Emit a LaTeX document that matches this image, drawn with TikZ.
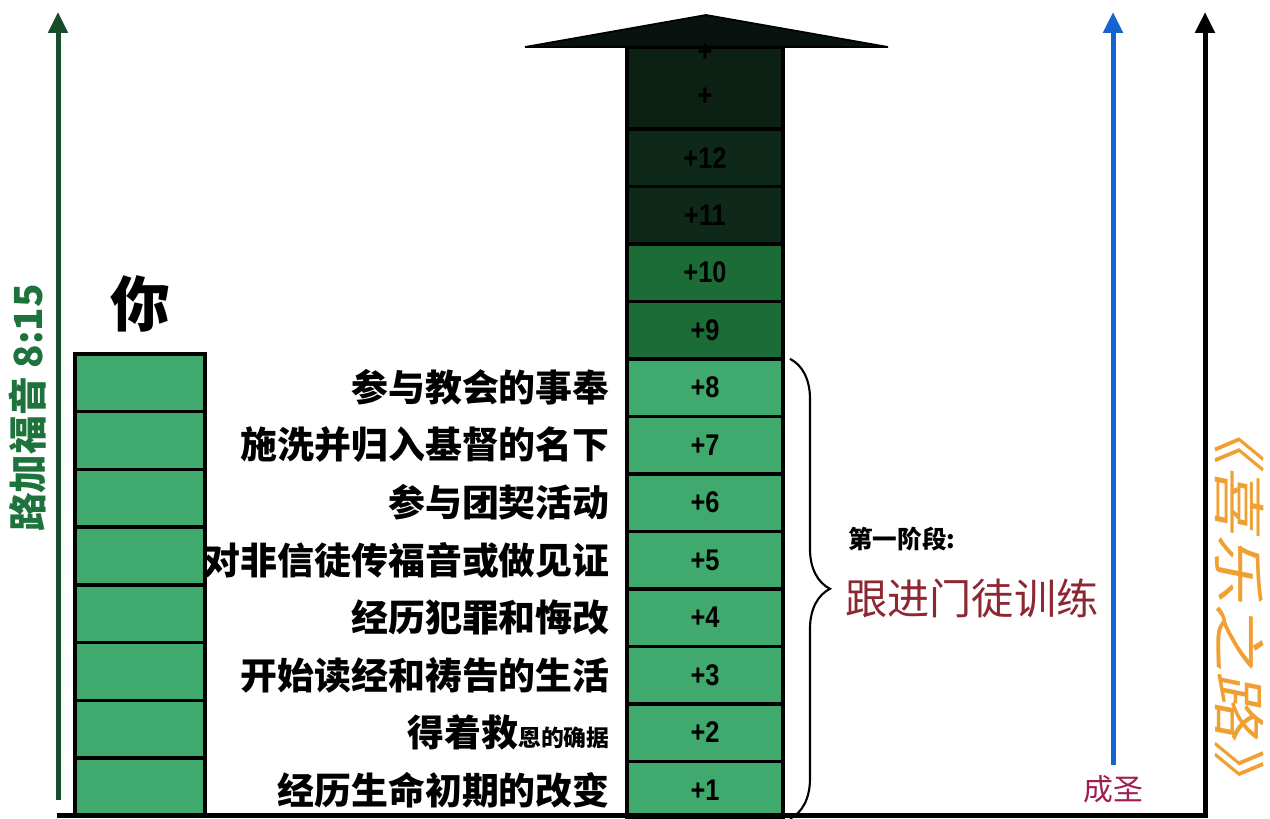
\documentclass[tikz,border=0pt]{standalone}
\usepackage{fontspec}
\setmainfont{Noto Sans CJK SC}
\newfontfamily\numfont[FakeStretch=0.85]{Liberation Sans}
\newfontfamily\slantfont[FakeSlant=0.2,FakeStretch=1.3]{Noto Sans CJK SC}
\usepackage{tikz}
\usetikzlibrary{arrows.meta,calc,positioning,decorations.pathreplacing}
\definecolor{stepgreen}{RGB}{64,170,110}
\definecolor{midgreen}{RGB}{28,108,56}
\definecolor{deepgreen}{RGB}{14,40,26}
\definecolor{crowngreen}{RGB}{12,32,20}
\definecolor{lukegreen}{RGB}{30,115,60}
\definecolor{arrowgreen}{RGB}{22,78,44}
\definecolor{joyorange}{RGB}{240,160,50}
\definecolor{trainred}{RGB}{140,40,50}
\definecolor{holyred}{RGB}{160,30,80}
\definecolor{holyblue}{RGB}{20,100,210}
\tikzset{
	rung/.style={draw, line width=2pt, fill=stepgreen, minimum width=3.12cm,
		minimum height=1.15cm, outer sep=0pt, inner sep=0pt,
		font=\numfont\bfseries\fontsize{17}{17}\selectfont},
	side rung/.style={rung, minimum width=2.6cm, minimum height=1.155cm},
	step label/.style={inner sep=0pt, font=\bfseries\fontsize{21}{21}\selectfont},
	up arrow/.style={line width=0.1cm, -{Triangle[width=0.38cm,length=0.42cm]}},
	head/.style={fill=crowngreen!60!black, draw=black, line width=1pt, line join=miter},
	brace/.style={decorate, decoration={brace, amplitude=0.8cm}, line width=1.2pt},
	you/.style={inner sep=0pt, font=\bfseries\fontsize{34}{34}\selectfont},
	phase/.style={inner sep=0pt, font=\bfseries\fontsize{14}{14}\selectfont},
	train/.style={inner sep=0pt, text=trainred, font=\fontsize{24}{24}\selectfont},
	holy/.style={inner sep=0pt, text=holyred, font=\fontsize{17}{17}\selectfont},
	luke/.style={inner sep=0pt, rotate=90, text=lukegreen, font=\bfseries\fontsize{22}{22}\selectfont},
	joy/.style={inner sep=0pt, rotate=-90, text=joyorange, font=\slantfont\fontsize{30}{30}\selectfont}
}
\newcommand\smallcjk[1]{{\fontsize{13}{13}\selectfont #1}}

\begin{document}
\begin{tikzpicture}[x=0.02cm, y=-0.02cm]
   \useasboundingbox (0,0) rectangle (1270,818);
   % the column of steps
   \node[rung] (c1) at (705,790) {+1};
   \foreach \i/\shade [remember=\i as \j (initially 1)] in {2/stepgreen,3/stepgreen,4/stepgreen,
         5/stepgreen,6/stepgreen,7/stepgreen,8/stepgreen,9/midgreen,10/midgreen,11/deepgreen,12/deepgreen}
      \node[rung, fill=\shade, above=0pt of c\j] (c\i) {+\i};
   \node[rung, fill=crowngreen, minimum height=1.64cm, above=0pt of c12] (crown) {};
   \node[rung, draw=none, fill=none] (p13) at ([yshift=-0.18cm]crown.center) {+};
   \coordinate (headL) at (525,47);
   \coordinate (headT) at (706,15);
   \coordinate (headR) at (888,47);
   \filldraw[head] (headL) -- (headT) -- (headR) -- cycle;
   \node[rung, draw=none, fill=none] (p14) at ([yshift=0.7cm]crown.center) {+};
   \foreach \i/\txt in {1/经历生命初期的改变, 2/{得着救\smallcjk{恩的确据}}, 3/开始读经和祷告的生活,
         4/经历犯罪和悔改, 5/对非信徒传福音或做见证, 6/参与团契活动, 7/施洗并归入基督的名下, 8/参与教会的事奉}
      \node[step label, left=0.34cm of c\i] (t\i) {\txt};
   % your own column
   \node[side rung] (l1) at (140,787) {};
   \foreach \i [remember=\i as \j (initially 1)] in {2,...,8}
      \node[side rung, above=0pt of l\j] (l\i) {};
   \node[you, above=0.42cm of l8] (you) {你};
   % brace and stage
   \draw[brace] ([xshift=0.14cm]c8.north east) -- ([xshift=0.14cm]c1.south east);
   \coordinate (tip) at ($([xshift=0.14cm]c8.north east)!0.5!([xshift=0.14cm]c1.south east)+(40,0)$);
   \node[train, anchor=west] (train) at ($(tip)+(15,10)$) {跟进门徒训练};
   \node[phase, anchor=west] (phase) at ($(tip)+(18,-50)$) {第一阶段:};
   % arrows and ground
   \coordinate (lukeBase) at (58,800);
   \coordinate (lukeTip) at (58,12);
   \draw[up arrow, arrowgreen] (lukeBase) -- (lukeTip);
   \node[luke] (luke) at (28,408) {路加福音 8:15};
   \coordinate (holyBase) at (1113,765);
   \coordinate (holyTip) at (1113,12);
   \draw[up arrow, holyblue] (holyBase) -- (holyTip);
   \node[holy, below=0.2cm of holyBase] (holy) {成圣};
   \coordinate (ground) at (57,815);
   \coordinate (joyBase) at (1205,815);
   \coordinate (joyTip) at (1205,12);
   \draw[up arrow, line join=miter] (ground) -- (joyBase) -- (joyTip);
   \node[joy] (joy) at (1240,603) {《喜乐之路》};
\end{tikzpicture}
\end{document}
